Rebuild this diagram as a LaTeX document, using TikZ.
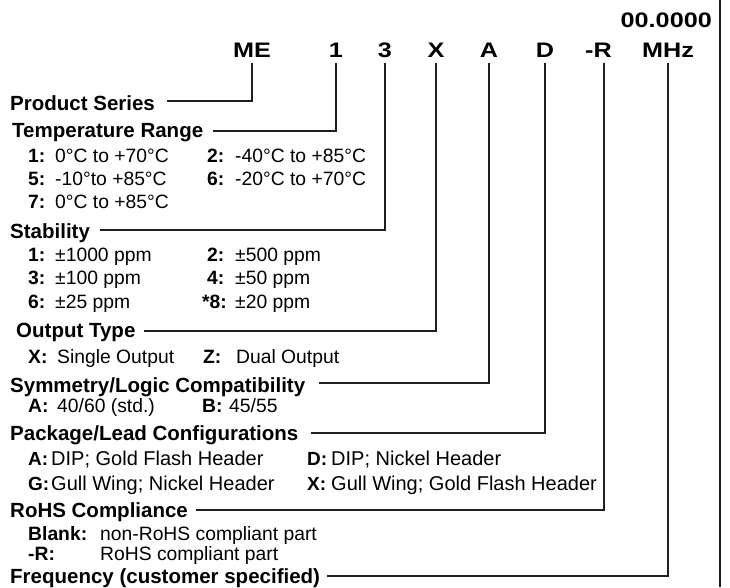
\documentclass[tikz,border=0pt]{standalone}
\usepackage{fontspec}
\setmainfont{Liberation Sans}
\newfontfamily\codefont[FakeStretch=1.2]{Liberation Sans Bold}
\begin{document}
\begin{tikzpicture}[x=1pt,y=-1pt,
  hd/.style={anchor=base west,inner sep=0pt,font=\fontsize{20.5}{24}\selectfont\bfseries},
  lb/.style={anchor=base west,inner sep=0pt,font=\fontsize{19.3}{23}\selectfont\bfseries},
  tx/.style={anchor=base west,inner sep=0pt,font=\fontsize{19.3}{23}\selectfont},
  plb/.style={lb,font=\fontsize{19}{23}\selectfont\bfseries},
  ptx/.style={tx,font=\fontsize{20}{23}\selectfont},
  code/.style={anchor=base,inner sep=0pt,font=\fontsize{21}{25}\selectfont\codefont},
  lead/.style={line width=1.8pt,draw=black!88},
]
\useasboundingbox (0,0) rectangle (730,587);
% frame edge
\draw[lead] (720,0) -- (720,587);
% part number codes
\node[code,anchor=base east] (freq) at (712,27) {00.0000};
\node[code] (me) at (252,57) {ME};
\node[code] (c1) at (336,57) {1};
\node[code] (c3) at (385,57) {3};
\node[code] (cx) at (436,57) {X};
\node[code] (ca) at (489,57) {A};
\node[code] (cd) at (545,57) {D};
\node[code,anchor=base east] (rr) at (612,57) {-R};
\node[code] (mhz) at (668,57) {MHz};
% headings
\node[hd] (ps) at (10,110) {Product Series};
\node[hd] (tr) at (12,137) {Temperature Range};
\node[hd] (st) at (10,238) {Stability};
\node[hd] (ot) at (16,337) {Output Type};
\node[hd] (sy) at (10,392) {Symmetry/Logic Compatibility};
\node[hd] (pk) at (10,440) {Package/Lead Configurations};
\node[hd] (ro) at (10,517) {RoHS Compliance};
\node[hd] (fr) at (10,583) {Frequency (customer specified)};
% temperature items
\node[lb] (t1) at (28,162) {1:};  \node[tx] (t1v) at (55,162) {0°C to +70°C};
\node[lb] (t2) at (207,162) {2:}; \node[tx] (t2v) at (235,162) {-40°C to +85°C};
\node[lb] (t5) at (28,185) {5:};  \node[tx] (t5v) at (55,185) {-10°to +85°C};
\node[lb] (t6) at (207,185) {6:}; \node[tx] (t6v) at (235,185) {-20°C to +70°C};
\node[lb] (t7) at (28,208) {7:};  \node[tx] (t7v) at (55,208) {0°C to +85°C};
% stability items
\node[lb] (s1) at (28,261) {1:};  \node[tx] (s1v) at (55,261) {±1000 ppm};
\node[lb] (s2) at (207,261) {2:}; \node[tx] (s2v) at (235,261) {±500 ppm};
\node[lb] (s3) at (28,284) {3:};  \node[tx] (s3v) at (55,284) {±100 ppm};
\node[lb] (s4) at (207,284) {4:}; \node[tx] (s4v) at (235,284) {±50 ppm};
\node[lb] (s6) at (28,308) {6:};  \node[tx] (s6v) at (55,308) {±25 ppm};
\node[lb] (s8) at (202,308) {*8:}; \node[tx] (s8v) at (235,308) {±20 ppm};
% output items
\node[lb] (ox) at (28,363) {X:};  \node[tx] (oxv) at (57,363) {Single Output};
\node[lb] (oz) at (203,363) {Z:}; \node[tx] (ozv) at (236,363) {Dual Output};
% symmetry items
\node[lb] (ya) at (28,412) {A:};  \node[tx] (yav) at (57,412) {40/60 (std.)};
\node[lb] (yb) at (202,412) {B:}; \node[tx] (ybv) at (229,412) {45/55};
% package items
\node[plb] (pa) at (28,465) {A:};  \node[ptx] (pav) at (51,465) {DIP; Gold Flash Header};
\node[plb] (pd) at (307,465) {D:}; \node[ptx] (pdv) at (331,465) {DIP; Nickel Header};
\node[plb] (pg) at (28,490) {G:};  \node[ptx] (pgv) at (51,490) {Gull Wing; Nickel Header};
\node[plb] (px) at (307,490) {X:}; \node[ptx] (pxv) at (331,490) {Gull Wing; Gold Flash Header};
% rohs items
\node[lb] (rb) at (28,540) {Blank:}; \node[tx] (rbv) at (100,540) {non-RoHS compliant part};
\node[lb] (rr2) at (28,560) {-R:};   \node[tx] (rrv) at (100,560) {RoHS compliant part};
% leader lines
\draw[lead] ([xshift=12pt,yshift=9pt]ps.base east) -| ([yshift=-6pt]me.base);
\draw[lead] ([xshift=10pt,yshift=6pt]tr.base east) -| ([yshift=-6pt]c1.base);
\draw[lead] ([xshift=10pt,yshift=8pt]st.base east) -| ([yshift=-6pt]c3.base);
\draw[lead] ([xshift=8pt,yshift=6pt]ot.base east) -| ([yshift=-6pt]cx.base);
\draw[lead] ([xshift=14pt,yshift=9pt]sy.base east) -| ([yshift=-6pt]ca.base);
\draw[lead] ([xshift=12pt,yshift=7pt]pk.base east) -| ([yshift=-6pt]cd.base);
\draw[lead] ([xshift=8pt,yshift=7pt]ro.base east) -| ([xshift=-8pt,yshift=-6pt]rr.base east);
\draw[lead] ([xshift=7pt,yshift=7pt]fr.base east) -| ([yshift=-6pt]mhz.base);
\end{tikzpicture}
\end{document}
